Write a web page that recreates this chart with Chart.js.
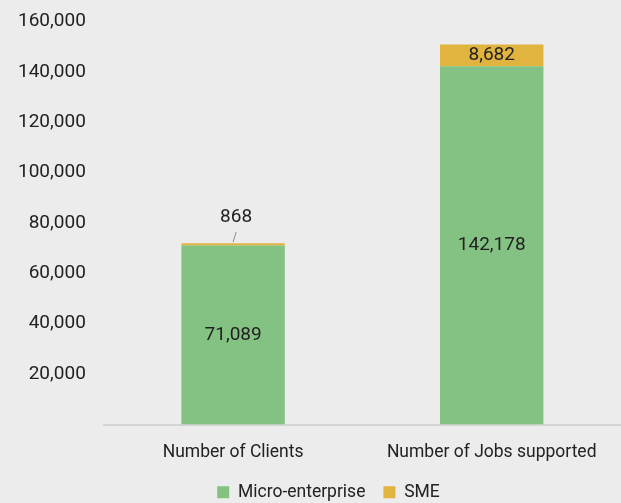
<!DOCTYPE html>
<html>
<head>
<meta charset="utf-8">
<script src="https://cdn.jsdelivr.net/npm/chart.js@4"></script>
<style>
  html, body { margin: 0; padding: 0; background: #ebeceb; }
  #wrap { width: 621px; height: 503px; }
</style>
</head>
<body>
<div id="wrap"><canvas id="chart"></canvas></div>
<script>
// Datos del gráfico
const categorias = ["Number of Clients", "Number of Jobs supported"];
const microEmpresa = [71089, 142178];
const pyme = [868, 8682];
const etiquetasY = [0, 20000, 40000, 60000, 80000, 100000, 120000, 140000, 160000];

const FUENTE = "Roboto, 'Noto Sans', sans-serif";
const TEXTO = "#222222";

// Etiquetas de valores sobre las barras
const etiquetas = {
  id: "etiquetas",
  afterLayout(chart) {
    // la leyenda va un poco a la derecha del centro
    chart.legend.left += 14;
    chart.legend.right += 14;
  },
  afterDatasetsDraw(chart) {
    const ctx = chart.ctx;
    ctx.save();
    ctx.font = "19px " + FUENTE;
    ctx.fillStyle = TEXTO;
    ctx.textAlign = "center";
    ctx.textBaseline = "middle";
    chart.data.datasets.forEach((ds, i) => {
      chart.getDatasetMeta(i).data.forEach((bar, j) => {
        const valor = ds.data[j];
        const texto = valor.toLocaleString("en-US");
        const alto = Math.abs(bar.base - bar.y);
        if (alto > 10) {
          ctx.fillText(texto, bar.x, (bar.y + bar.base) / 2);
        } else {
          // valor pequeño: etiqueta arriba con línea guía
          ctx.fillText(texto, bar.x + 3, bar.y - 26);
          ctx.strokeStyle = "#8a8a8a";
          ctx.lineWidth = 1;
          ctx.beginPath();
          ctx.moveTo(bar.x + 3, bar.y - 11);
          ctx.lineTo(bar.x, bar.y - 1);
          ctx.stroke();
        }
      });
    });
    ctx.restore();
  }
};

new Chart(document.getElementById("chart"), {
  type: "bar",
  data: {
    labels: categorias,
    datasets: [
      {
        label: "Micro-enterprise",
        data: microEmpresa,
        backgroundColor: "#84c283",
        categoryPercentage: 1,
        barPercentage: 0.4
      },
      {
        label: "SME",
        data: pyme,
        backgroundColor: "#e0b43f",
        categoryPercentage: 1,
        barPercentage: 0.4
      }
    ]
  },
  options: {
    responsive: true,
    maintainAspectRatio: false,
    animation: false,
    layout: { padding: { top: 2, right: 0, left: 8, bottom: -8 } },
    plugins: {
      tooltip: { enabled: false },
      legend: {
        position: "bottom",
        labels: {
          color: TEXTO,
          font: { family: FUENTE, size: 17.5 },
          boxWidth: 12,
          boxHeight: 12,
          padding: 18
        }
      }
    },
    scales: {
      x: {
        stacked: true,
        grid: { display: false },
        border: { display: true, color: "#d3d4d3", width: 2 },
        ticks: { color: TEXTO, font: { family: FUENTE, size: 17.5 }, padding: 10 },
        afterFit(axis) { axis.height -= 8; }
      },
      y: {
        stacked: true,
        min: etiquetasY[0],
        max: etiquetasY[etiquetasY.length - 1],
        afterBuildTicks(axis) {
          axis.ticks = etiquetasY.map(v => ({ value: v }));
        },
        grid: { display: false },
        border: { display: false },
        ticks: {
          color: TEXTO,
          font: { family: FUENTE, size: 19 },
          padding: 10,
          callback: v => v === 0 ? "" : v.toLocaleString("en-US")
        }
      }
    }
  },
  plugins: [etiquetas]
});
</script>
</body>
</html>
